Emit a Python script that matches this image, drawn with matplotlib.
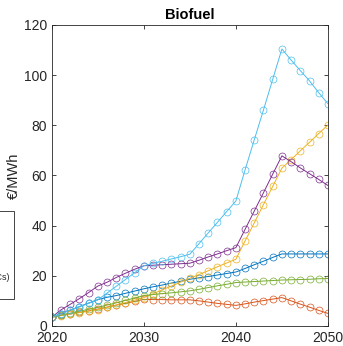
import numpy as np
import matplotlib
matplotlib.use("Agg")
import matplotlib.pyplot as plt
from matplotlib.patches import Rectangle

plt.rcParams['font.family'] = ['Liberation Sans', 'DejaVu Sans']

years = list(range(2020, 2051))

# values (EUR/MWh), one per year
blue = [3.5, 4.9, 6.3, 7.7, 9.1, 10.5, 11.4, 12.1, 13.0, 13.9, 14.8,
        15.6, 16.3, 17.1, 17.8, 18.6, 19.2, 19.7, 20.3, 20.9, 21.5,
        22.9, 24.4, 25.8, 27.3, 28.7, 28.7, 28.7, 28.7, 28.7, 28.7]
red = [3.5, 4.2, 4.9, 5.4, 6.0, 6.7, 7.5, 8.3, 9.0, 9.8, 10.6,
       10.5, 10.5, 10.4, 10.4, 10.4, 10.0, 9.5, 9.0, 8.6, 8.2,
       8.8, 9.5, 10.1, 10.7, 11.3, 10.0, 8.7, 7.5, 6.2, 5.0]
yellow = [3.5, 4.1, 4.7, 5.3, 5.9, 6.5, 7.4, 8.3, 9.3, 10.3, 11.3,
          12.8, 14.4, 15.9, 17.5, 19.0, 20.5, 22.0, 23.6, 25.1, 26.6,
          33.9, 41.1, 48.4, 55.6, 62.9, 66.3, 69.8, 73.2, 76.7, 80.1]
purple = [3.5, 6.4, 8.6, 10.9, 13.3, 15.9, 17.4, 19.3, 21.0, 22.6, 24.0,
          24.2, 24.4, 24.6, 24.8, 25.0, 26.2, 27.5, 28.7, 30.0, 31.2,
          38.5, 45.8, 53.1, 60.5, 67.8, 65.5, 63.0, 60.7, 58.4, 56.0]
green = [3.5, 4.3, 5.1, 5.9, 6.6, 7.4, 8.3, 9.2, 10.2, 11.1, 12.1,
         12.5, 12.9, 13.2, 13.6, 14.0, 14.6, 15.3, 16.0, 16.6, 17.3,
         17.5, 17.7, 17.9, 18.1, 18.3, 18.4, 18.5, 18.6, 18.8, 18.9]
cyan = [3.5, 4.9, 6.3, 7.7, 9.0, 10.4, 13.1, 15.8, 18.5, 21.2, 24.0,
        24.9, 25.8, 26.7, 27.6, 28.6, 32.8, 37.1, 41.3, 45.6, 49.8,
        62.2, 74.2, 86.1, 98.3, 110.4, 106.0, 101.8, 97.7, 93.0, 88.6]

series = [blue, red, yellow, purple, green, cyan]
colors = ['#0072BD', '#D95319', '#EDB120', '#7E2F8E', '#77AC30', '#4DBEEE']

fig = plt.figure(figsize=(3.43, 3.46), dpi=100)
ax = fig.add_axes([0.151, 0.058, 0.805, 0.870])

for vals, c in zip(series, colors):
    ax.plot(years, vals, color=c, lw=0.7, marker='o', ms=5,
            mfc='none', mec=c, mew=0.5)

ax.set_xlim(2020, 2050)
ax.set_ylim(0, 120)
ax.set_xticks([2020, 2030, 2040, 2050])
ax.set_yticks(range(0, 121, 20))
ax.tick_params(direction='in', top=True, right=True, length=3,
               width=0.6, color='#262626', labelsize=10, labelcolor='#262626')
ax.tick_params(axis='x', pad=4)
for s in ax.spines.values():
    s.set_color('#262626')
    s.set_linewidth(0.6)

ax.set_title('Biofuel', fontsize=10.5, fontweight='bold', pad=4)
ax.set_ylabel('€/MWh', fontsize=10.5, color='#262626', labelpad=2)

# piece of a neighbouring legend cut off at the left edge
fig.patches.append(Rectangle((-0.1, 0.136), 0.141, 0.255, transform=fig.transFigure,
                             fill=False, edgecolor='#262626', lw=0.6))
fig.text(0.028, 0.199, '(CCs)', fontsize=6.5, ha='right', va='center',
         color='#262626')

fig.savefig('out.png', dpi=100)
